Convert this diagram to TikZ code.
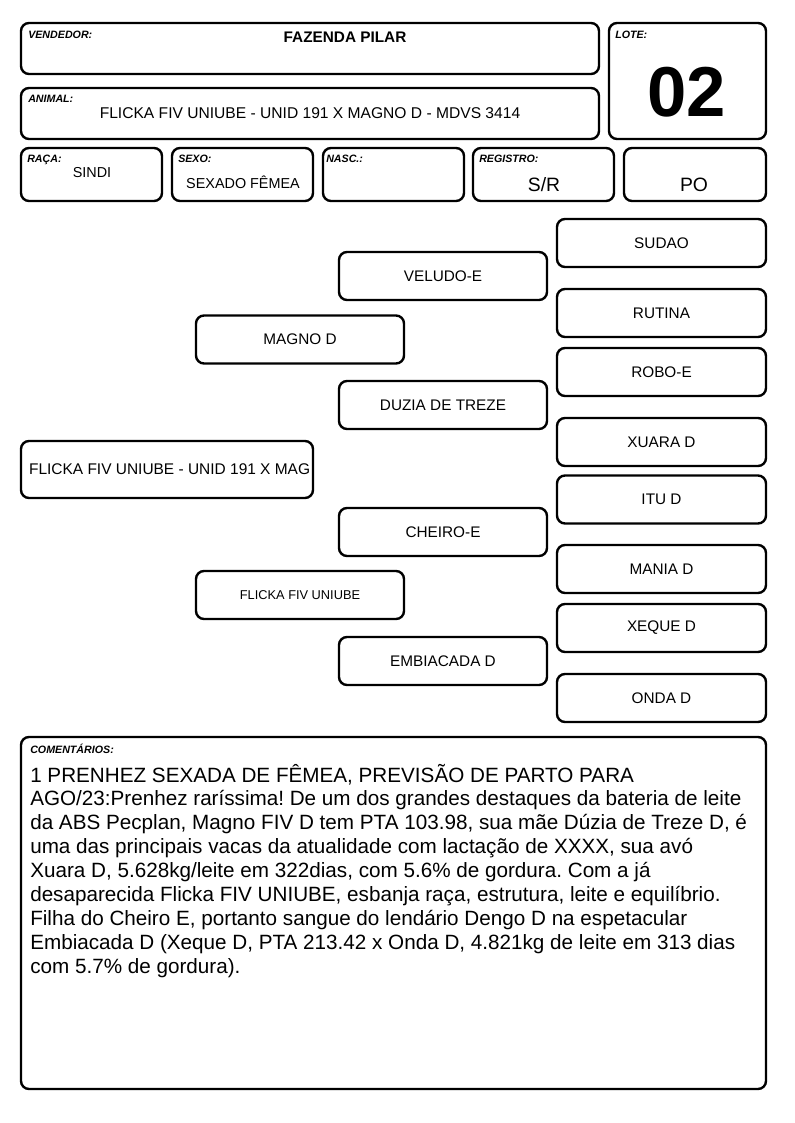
\documentclass[tikz,border=0pt]{standalone}
\usepackage{fontspec}
\setmainfont{Liberation Sans}
\frenchspacing
\newcommand{\fsz}[1]{\fontsize{#1}{1.2\dimexpr#1pt\relax}\selectfont}
\tikzset{
  card/.style={draw,line width=1.8pt,rounded corners=6pt},
  tag/.style={anchor=base west,inner sep=0pt,font=\fsz{8}\bfseries\itshape},
  value/.style={anchor=base,inner sep=0pt,font=\fsz{11}},
  pedbox/.style={card,minimum width=156pt,minimum height=36pt,inner sep=0pt,font=\fsz{11.5}}
}
\begin{document}
\begin{tikzpicture}[x=0.75pt,y=-0.75pt]
    \useasboundingbox (0,0) rectangle (794,1123);

    % Header boxes
    \draw [card] (21,23) rectangle (599,74);
    \draw [card] (609,23) rectangle (766,139);
    \draw [card] (21,88) rectangle (599,139);
    \draw [card] (21,148) rectangle (162,201);
    \draw [card] (172,148) rectangle (313,201);
    \draw [card] (323,148) rectangle (464,201);
    \draw [card] (473,148) rectangle (614,201);
    \draw [card] (624,148) rectangle (766,201);

    % Header labels
    \node [tag] (vendedor) at (28,39) {VENDEDOR:};
    \node [tag] (animal) at (28,103) {ANIMAL:};
    \node [tag] (lote) at (615,39) {LOTE:};
    \node [tag] (raca) at (27,163) {RAÇA:};
    \node [tag] (sexo) at (178,163) {SEXO:};
    \node [tag] (nasc) at (326,163) {NASC.:};
    \node [tag] (registro) at (479,163) {REGISTRO:};

    % Header values
    \node [value,font=\fsz{11.5}\bfseries] (fazenda) at (345,43) {FAZENDA PILAR};
    \node [value,font=\fsz{53}\bfseries] (lotenum) at (687,117) {02};
    \node [value,font=\fsz{11.7}] (nome) at (310,119)
        {FLICKA FIV UNIUBE - UNID 191 X MAGNO D - MDVS 3414};
    \node [value,font=\fsz{10.8}] (racaval) at (92,178) {SINDI};
    \node [value,font=\fsz{10.8}] (sexoval) at (243,189) {SEXADO FÊMEA};
    \node [value,font=\fsz{14.5}] (regval) at (544,192) {S/R};
    \node [value,font=\fsz{14.5}] (poval) at (694,192) {PO};

    % Pedigree: animal
    \node [pedbox,minimum width=219pt,minimum height=42.75pt] (flickax) at (167,469.5) {};
    \node [anchor=west,inner sep=0pt,font=\fsz{11.6}] (flickaxtxt)
        at ([xshift=6.75pt]flickax.west) {FLICKA FIV UNIUBE - UNID 191 X MAG};

    % Pedigree: parents
    \node [pedbox] (magno) at (300,339.5) {MAGNO D};
    \node [pedbox,font=\fsz{9.6}] (flicka) at (300,595) {FLICKA FIV UNIUBE};

    % Pedigree: grandparents
    \node [pedbox] (veludo) at (443,276) {VELUDO-E};
    \node [pedbox] (duzia) at (443,405) {DUZIA DE TREZE};
    \node [pedbox] (cheiro) at (443,532) {CHEIRO-E};
    \node [pedbox] (embiacada) at (443,661) {EMBIACADA D};

    % Pedigree: great-grandparents
    \node [pedbox,minimum width=156.75pt] (sudao) at (661.5,243) {SUDAO};
    \node [pedbox,minimum width=156.75pt] (rutina) at (661.5,313) {RUTINA};
    \node [pedbox,minimum width=156.75pt] (robo) at (661.5,372) {ROBO-E};
    \node [pedbox,minimum width=156.75pt] (xuara) at (661.5,442) {XUARA D};
    \node [pedbox,minimum width=156.75pt] (itu) at (661.5,499.5) {ITU D};
    \node [pedbox,minimum width=156.75pt] (mania) at (661.5,569) {MANIA D};
    \node [pedbox,minimum width=156.75pt] (xeque) at (661.5,628) {XEQUE D};
    \node [pedbox,minimum width=156.75pt] (onda) at (661.5,698) {ONDA D};

    % Comments (base = last line)
    \draw [card] (21,737) rectangle (766,1089);
    \node [tag] (comentarios) at (30,753) {COMENTÁRIOS:};
    \node [anchor=base west,inner sep=0pt,align=left,
        font=\fontsize{15.5}{17.9}\selectfont] (comtxt) at (30,973)
        {1 PRENHEZ SEXADA DE FÊMEA, PREVISÃO DE PARTO PARA\\
         AGO/23:Prenhez raríssima! De um dos grandes destaques da bateria de leite\\
         da ABS Pecplan, Magno FIV D tem PTA 103.98, sua mãe Dúzia de Treze D, é\\
         uma das principais vacas da atualidade com lactação de XXXX, sua avó\\
         Xuara D, 5.628kg/leite em 322dias, com 5.6\% de gordura. Com a já\\
         desaparecida Flicka FIV UNIUBE, esbanja raça, estrutura, leite e equilíbrio.\\
         Filha do Cheiro E, portanto sangue do lendário Dengo D na espetacular\\
         Embiacada D (Xeque D, PTA 213.42 x Onda D, 4.821kg de leite em 313 dias\\
         com 5.7\% de gordura).};
\end{tikzpicture}
\end{document}
